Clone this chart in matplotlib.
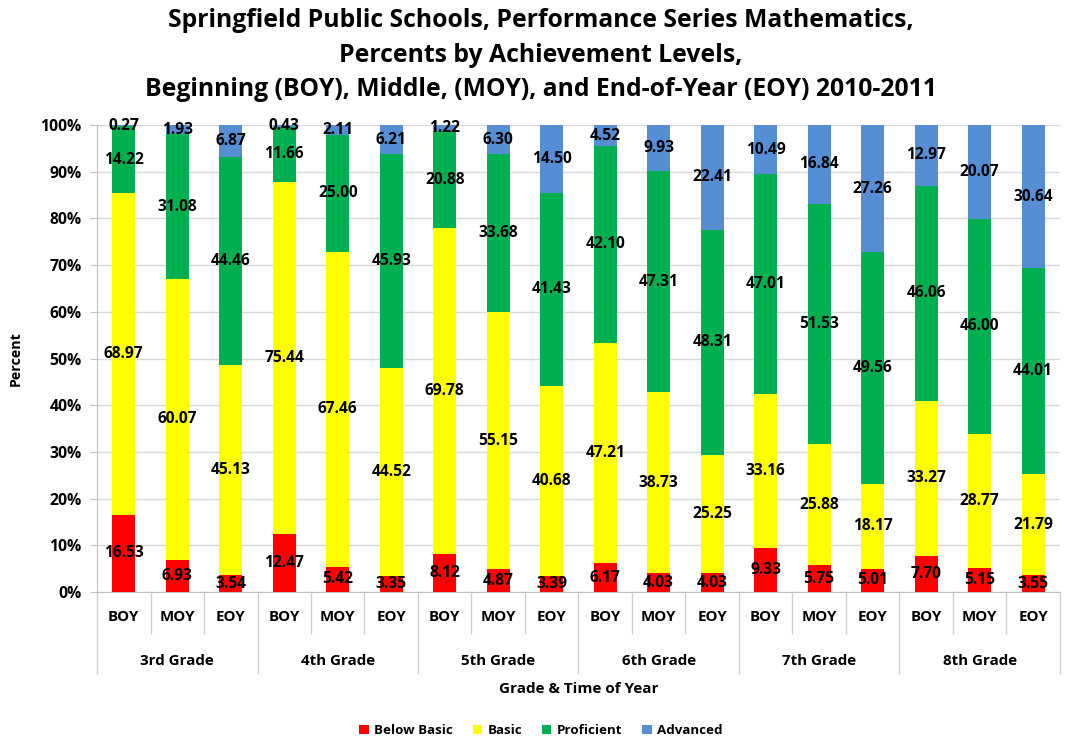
import matplotlib.pyplot as plt
from matplotlib.transforms import blended_transform_factory

plt.rcParams['font.family'] = ['Open Sans', 'DejaVu Sans']
plt.rcParams['font.weight'] = 'bold'

grades = ['3rd Grade', '4th Grade', '5th Grade', '6th Grade', '7th Grade', '8th Grade']
times = ['BOY', 'MOY', 'EOY']
levels = ['Below Basic', 'Basic', 'Proficient', 'Advanced']
colors = ['#FF0000', '#FFFF00', '#00B050', '#558ED5']

below_basic = [16.53, 6.93, 3.54, 12.47, 5.42, 3.35, 8.12, 4.87, 3.39,
               6.17, 4.03, 4.03, 9.33, 5.75, 5.01, 7.70, 5.15, 3.55]
basic = [68.97, 60.07, 45.13, 75.44, 67.46, 44.52, 69.78, 55.15, 40.68,
         47.21, 38.73, 25.25, 33.16, 25.88, 18.17, 33.27, 28.77, 21.79]
proficient = [14.22, 31.08, 44.46, 11.66, 25.00, 45.93, 20.88, 33.68, 41.43,
              42.10, 47.31, 48.31, 47.01, 51.53, 49.56, 46.06, 46.00, 44.01]
advanced = [0.27, 1.93, 6.87, 0.43, 2.11, 6.21, 1.22, 6.30, 14.50,
            4.52, 9.93, 22.41, 10.49, 16.84, 27.26, 12.97, 20.07, 30.64]

series = [below_basic, basic, proficient, advanced]
n = len(below_basic)
x = list(range(n))

fig = plt.figure(figsize=(10.71, 7.40), dpi=100)
ax = fig.add_axes([0.0906, 0.2, 0.899, 0.631])

bottom = [0.0] * n
for vals, name, col in zip(series, levels, colors):
    ax.bar(x, vals, 0.43, bottom=bottom, color=col, label=name, zorder=3)
    for i, v in enumerate(vals):
        ax.text(i, bottom[i] + v / 2, f'{v:.2f}', ha='center', va='center',
                fontsize=11.2, fontweight='bold', color='black', zorder=5)
    bottom = [b + v for b, v in zip(bottom, vals)]

ax.set_xlim(-0.5, n - 0.5)
ax.set_ylim(0, 100)
ax.set_yticks(range(0, 101, 10))
ax.set_yticklabels([f'{t}%' for t in range(0, 101, 10)], fontsize=11.3, fontweight='bold')
ax.tick_params(axis='y', length=5, color='#BFBFBF', pad=6)
ax.set_xticks([])
ax.grid(axis='y', color='#D9D9D9', linewidth=1, zorder=0)
for s in ['top', 'right']:
    ax.spines[s].set_visible(False)
ax.spines['left'].set_color('#BFBFBF')
ax.spines['bottom'].set_color('#BFBFBF')
ax.set_ylabel('Percent', fontsize=10.3, fontweight='bold')
ax.yaxis.set_label_coords(-0.077, 0.5)

# two-level category axis
tr = blended_transform_factory(ax.transData, ax.transAxes)
for i in range(n):
    ax.text(i, -0.054, times[i % 3], transform=tr, ha='center', va='center',
            fontsize=10.8, fontweight='bold')
for g, name in enumerate(grades):
    ax.text(g * 3 + 1, -0.147, name, transform=tr, ha='center', va='center',
            fontsize=10.9, fontweight='bold')
for k in range(n + 1):
    xb = k - 0.5
    y_end = -0.173 if k % 3 == 0 else -0.088
    ax.plot([xb, xb], [0, y_end], transform=tr, color='#D0D0D0', lw=1, clip_on=False)
ax.text(0.5, -0.207, 'Grade & Time of Year', transform=ax.transAxes, ha='center',
        va='center', fontsize=11, fontweight='bold')

fig.suptitle('Springfield Public Schools, Performance Series Mathematics,\n'
             'Percents by Achievement Levels,\n'
             'Beginning (BOY), Middle, (MOY), and End-of-Year (EOY) 2010-2011',
             x=0.505, y=1 - 55 / 740, va='center', fontsize=17.8, fontweight='bold',
             linespacing=1.5)

fig.legend(loc='lower center', ncol=4, frameon=False, bbox_to_anchor=(0.505, -0.012),
           prop={'size': 9.6, 'weight': 'bold'}, handlelength=0.7, handleheight=0.7,
           handletextpad=0.4, columnspacing=1.5)

fig.savefig('out.png', dpi=100)
